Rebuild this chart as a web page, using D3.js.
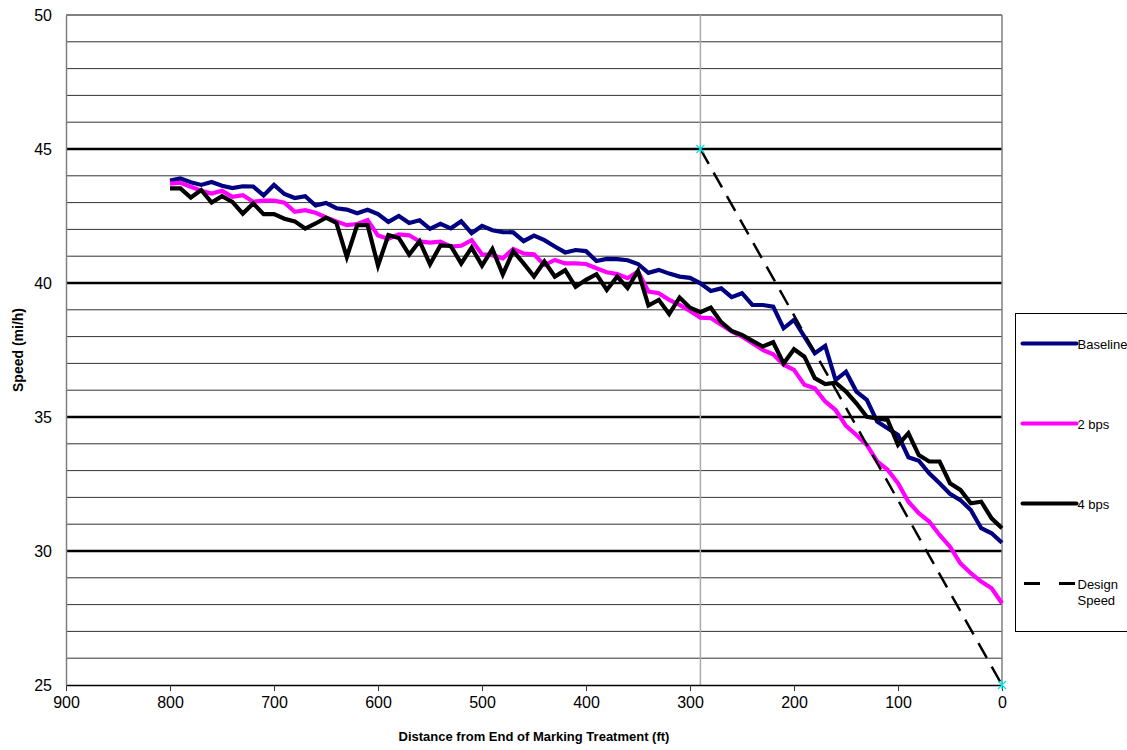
<!DOCTYPE html>
<html>
<head>
<meta charset="utf-8">
<script src="https://cdn.jsdelivr.net/npm/d3@7"></script>
<style>
body { margin: 0; background: #fff; }
text { font-family: "Liberation Sans", Arial, sans-serif; }
</style>
</head>
<body>
<div id="chart"></div>
<script>
// distances (ft) where speeds were sampled
var distances = [800, 790, 780, 770, 760, 750, 740, 730, 720, 710, 700, 690, 680, 670, 660, 650, 640, 630, 620, 610,
    600, 590, 580, 570, 560, 550, 540, 530, 520, 510, 500, 490, 480, 470, 460, 450, 440, 430, 420, 410,
    400, 390, 380, 370, 360, 350, 340, 330, 320, 310, 300, 290, 280, 270, 260, 250, 240, 230, 220, 210,
    200, 190, 180, 170, 160, 150, 140, 130, 120, 110, 100, 90, 80, 70, 60, 50, 40, 30, 20, 10, 0];

var baseline = [43.82, 43.9, 43.76, 43.66, 43.77, 43.63, 43.54, 43.61, 43.6, 43.27, 43.66, 43.32, 43.17, 43.24, 42.89, 42.99, 42.79, 42.74, 42.6, 42.73,
    42.57, 42.28, 42.5, 42.24, 42.34, 42.02, 42.21, 42.04, 42.3, 41.86, 42.13, 41.97, 41.9, 41.89, 41.56, 41.77, 41.6, 41.36, 41.14, 41.23,
    41.19, 40.82, 40.9, 40.89, 40.85, 40.71, 40.38, 40.49, 40.35, 40.24, 40.19, 39.99, 39.7, 39.8, 39.47, 39.62, 39.18, 39.18, 39.12, 38.31,
    38.62, 38.0, 37.38, 37.65, 36.38, 36.69, 35.95, 35.64, 34.83, 34.58, 34.33, 33.5, 33.37, 32.9, 32.53, 32.13, 31.9, 31.53, 30.85, 30.66, 30.31];

var bps2 = [43.71, 43.74, 43.59, 43.44, 43.34, 43.44, 43.22, 43.28, 43.03, 43.07, 43.07, 43.0, 42.66, 42.72, 42.62, 42.45, 42.3, 42.16, 42.2, 42.35,
    41.77, 41.65, 41.81, 41.78, 41.55, 41.51, 41.54, 41.36, 41.39, 41.6, 41.07, 41.04, 40.92, 41.27, 41.1, 41.07, 40.67, 40.86, 40.73, 40.73,
    40.71, 40.55, 40.4, 40.33, 40.18, 40.43, 39.68, 39.62, 39.37, 39.18, 38.96, 38.71, 38.69, 38.44, 38.19, 38.0, 37.75, 37.5, 37.34, 36.95,
    36.76, 36.2, 36.07, 35.58, 35.26, 34.67, 34.33, 33.96, 33.34, 33.03, 32.53, 31.84, 31.41, 31.1, 30.6, 30.16, 29.54, 29.17, 28.86, 28.61, 28.05];

var bps4 = [43.53, 43.53, 43.19, 43.47, 43.0, 43.24, 43.03, 42.59, 42.97, 42.57, 42.57, 42.4, 42.3, 42.03, 42.22, 42.44, 42.24, 40.97, 42.16, 42.16,
    40.65, 41.79, 41.68, 41.06, 41.56, 40.7, 41.4, 41.38, 40.73, 41.32, 40.65, 41.27, 40.32, 41.19, 40.73, 40.24, 40.8, 40.24, 40.48, 39.86,
    40.12, 40.33, 39.74, 40.24, 39.81, 40.45, 39.16, 39.37, 38.84, 39.46, 39.08, 38.91, 39.08, 38.54, 38.21, 38.06, 37.84, 37.63, 37.79, 37.0,
    37.53, 37.25, 36.45, 36.23, 36.28, 35.95, 35.51, 35.01, 34.95, 34.89, 33.96, 34.39, 33.58, 33.34, 33.34, 32.53, 32.28, 31.78, 31.84, 31.22, 30.85];

// design speed line end points
var designDist = [290, 0];
var designSpeed = [45, 25];

var xTicks = [900, 800, 700, 600, 500, 400, 300, 200, 100, 0];
var yTicks = [25, 30, 35, 40, 45, 50];
var seriesNames = ["Baseline", "2 bps", "4 bps", "Design Speed"];

//svg size
var svgWidth = 1127;
var svgHeight = 750;
var margin = { top: 15, bottom: 65, right: 125, left: 66 };
var chartWidth = svgWidth - margin.left - margin.right;
var chartHeight = svgHeight - margin.top - margin.bottom;

var svg = d3.select("#chart")
    .append("svg")
    .attr("width", svgWidth)
    .attr("height", svgHeight);

var chartGroup = svg.append("g")
    .attr("transform", `translate(${margin.left}, ${margin.top})`);

//scales (distance axis runs backwards)
var xScale = d3.scaleLinear().domain([900, 0]).range([0, chartWidth]);
var yScale = d3.scaleLinear().domain([25, 50]).range([chartHeight, 0]);

//horizontal gridlines, every 1 mi/h, heavier every 5
var gridVals = d3.range(26, 50);
chartGroup.selectAll(".grid")
    .data(gridVals)
    .enter()
    .append("line")
    .attr("x1", 0)
    .attr("x2", chartWidth)
    .attr("y1", d => yScale(d))
    .attr("y2", d => yScale(d))
    .attr("stroke", d => d % 5 === 0 ? "#000" : "#333")
    .attr("stroke-width", d => d % 5 === 0 ? 2.5 : 1);

//top and right border
chartGroup.append("line")
    .attr("x1", 0).attr("x2", chartWidth)
    .attr("y1", 0).attr("y2", 0)
    .attr("stroke", "#808080").attr("stroke-width", 2);
chartGroup.append("line")
    .attr("x1", chartWidth).attr("x2", chartWidth)
    .attr("y1", 0).attr("y2", chartHeight)
    .attr("stroke", "#808080").attr("stroke-width", 1.5);

//vertical reference line at design start
chartGroup.append("line")
    .attr("x1", xScale(designDist[0])).attr("x2", xScale(designDist[0]))
    .attr("y1", 0).attr("y2", chartHeight)
    .attr("stroke", "#aaa").attr("stroke-width", 1.5);

//axes
var xAxis = d3.axisBottom(xScale).tickValues(xTicks).tickSize(6).tickSizeOuter(0);
var yAxis = d3.axisLeft(yScale).tickValues(yTicks).tickSize(0).tickPadding(14);

var xg = chartGroup.append("g")
    .attr("transform", `translate(0, ${chartHeight})`)
    .call(xAxis);
xg.select(".domain").attr("stroke", "#000").attr("stroke-width", 1.5);
xg.selectAll(".tick line").attr("stroke", "#333");
xg.selectAll("text").attr("font-size", 16).attr("fill", "#000").attr("dy", "0.9em")
    .style("font-family", "'Liberation Sans', Arial, sans-serif");

var yg = chartGroup.append("g").call(yAxis);
yg.select(".domain").attr("stroke", "#808080").attr("stroke-width", 1.5);
yg.selectAll("text").attr("font-size", 16).attr("fill", "#000")
    .style("font-family", "'Liberation Sans', Arial, sans-serif");

//series lines
var line = d3.line()
    .x((d, i) => xScale(distances[i]))
    .y(d => yScale(d));

var series = [
    { name: seriesNames[0], values: baseline, color: "#000080" },
    { name: seriesNames[1], values: bps2, color: "#ff00ff" },
    { name: seriesNames[2], values: bps4, color: "#000000" }
];

series.forEach(function(s) {
    chartGroup.append("path")
        .datum(s.values)
        .attr("d", line)
        .attr("fill", "none")
        .attr("stroke", s.color)
        .attr("stroke-width", 4.2)
        .attr("stroke-linejoin", "miter");
});

//design speed dashed line
var designLine = d3.line()
    .x((d, i) => xScale(designDist[i]))
    .y(d => yScale(d));
chartGroup.append("path")
    .datum(designSpeed)
    .attr("d", designLine)
    .attr("fill", "none")
    .attr("stroke", "#000")
    .attr("stroke-width", 2.5)
    .attr("stroke-dasharray", "17,10");

//cyan star markers at the ends
designSpeed.forEach(function(v, i) {
    var cx = xScale(designDist[i]);
    var cy = yScale(v);
    var r = 4;
    var g = chartGroup.append("g").attr("stroke", "#00e5e5").attr("stroke-width", 1.2);
    g.append("line").attr("x1", cx - r).attr("x2", cx + r).attr("y1", cy - r).attr("y2", cy + r);
    g.append("line").attr("x1", cx - r).attr("x2", cx + r).attr("y1", cy + r).attr("y2", cy - r);
    g.append("line").attr("x1", cx).attr("x2", cx).attr("y1", cy - r).attr("y2", cy + r);
});

//axis titles
svg.append("text")
    .attr("x", margin.left + chartWidth / 2)
    .attr("y", 741)
    .attr("text-anchor", "middle")
    .attr("font-size", 13)
    .attr("font-weight", "bold")
    .text("Distance from End of Marking Treatment (ft)");

svg.append("text")
    .attr("transform", "rotate(-90)")
    .attr("x", -350)
    .attr("y", 23)
    .attr("text-anchor", "middle")
    .attr("font-size", 14)
    .attr("font-weight", "bold")
    .text("Speed (mi/h)");

//legend
var legend = svg.append("g").attr("transform", "translate(1015.5, 313.5)");
legend.append("rect")
    .attr("width", 130)
    .attr("height", 318)
    .attr("fill", "#fff")
    .attr("stroke", "#000")
    .attr("stroke-width", 1);

var legendItems = [
    { name: seriesNames[0], color: "#000080", dash: null, y: 30 },
    { name: seriesNames[1], color: "#ff00ff", dash: null, y: 110 },
    { name: seriesNames[2], color: "#000000", dash: null, y: 190 },
    { name: seriesNames[3], color: "#000000", dash: "16,19", y: 270 }
];

legendItems.forEach(function(it) {
    legend.append("line")
        .attr("x1", it.dash ? 8.5 : 7)
        .attr("x2", it.dash ? 59.5 : 61)
        .attr("y1", it.y).attr("y2", it.y)
        .attr("stroke", it.color)
        .attr("stroke-width", it.dash ? 3 : 4)
        .attr("stroke-linecap", it.dash ? "butt" : "round")
        .attr("stroke-dasharray", it.dash);
    var t = legend.append("text")
        .attr("x", 62)
        .attr("y", it.y + 5)
        .attr("font-size", 13)
        .attr("fill", "#000");
    var words = it.name === "Design Speed" ? ["Design", "Speed"] : [it.name];
    words.forEach(function(w, k) {
        t.append("tspan").attr("x", 62).attr("dy", k === 0 ? 0 : 16).text(w);
    });
});
</script>
</body>
</html>
